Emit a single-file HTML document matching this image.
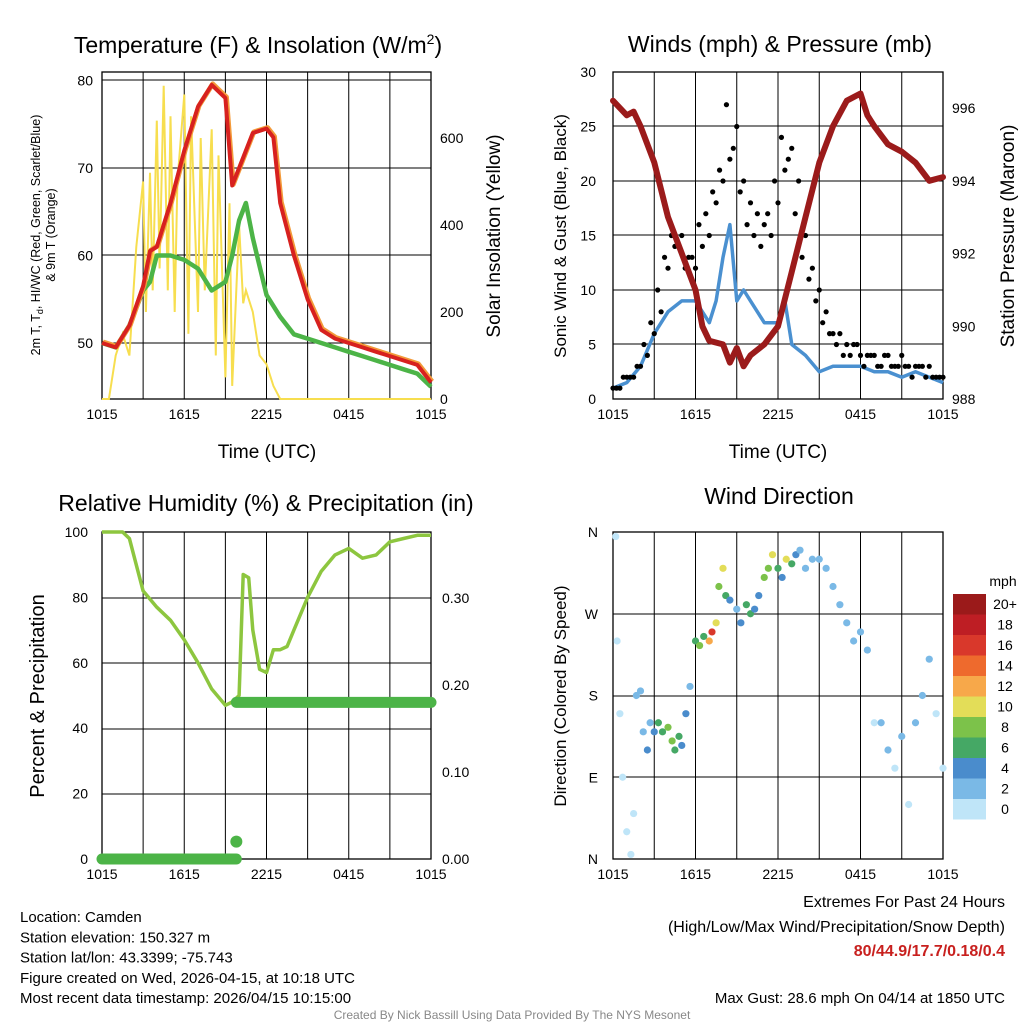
<!DOCTYPE html>
<html><head><meta charset="utf-8"><style>
html,body{margin:0;padding:0;background:#fff;}
svg{display:block;font-family:"Liberation Sans",sans-serif;}
</style></head><body>
<svg id="c" width="1024" height="1024" viewBox="0 0 1024 1024"></svg>
<script>
// ---------- DATA ----------
const tempTimes=[0,1,2,3,3.5,4,5,6,7,8,9,9.5,10,11,12,12.5,13,14,15,16,17,18,19,20,21,22,23,24];
const tempValues=[50,49.5,52,56.5,60.5,61,66,72,77,79.5,78,68,70,74,74.5,73.5,66,60,55,51.5,50.5,50,49.5,49,48.5,48,47.5,45.5];
const dewTimes=[0,1,2,3,3.5,4,5,6,7,8,9,9.5,10,10.5,11,12,13,14,15,16,17,18,19,20,21,22,23,24];
const dewValues=[50,49.5,52,56,57,60,60,59.5,58.5,56,57,60,64,66,62,55.5,53,51,50.5,50,49.5,49,48.5,48,47.5,47,46.5,45];
const solarTimes=[0,0.5,1,1.5,2,2.5,3,3.2,3.5,3.7,4,4.2,4.5,4.8,5,5.3,5.5,6,6.3,6.5,7,7.2,7.5,8,8.3,8.5,9,9.3,9.5,10,10.3,10.5,11,11.5,12,12.5,13,24];
const solarValues=[0,0,100,150,100,350,500,200,520,250,640,300,720,250,650,200,500,700,150,650,200,600,250,620,100,560,50,450,30,400,220,250,200,100,80,30,0,0];
const presTimes=[0,1,1.5,2,3,4,5,6,6.5,7,8,8.5,9,9.5,10,11,12,13,14,15,16,17,18,18.5,19,20,21,22,23,24];
const presValues=[996.2,995.8,995.9,995.5,994.5,993,992,991,990,989.6,989.5,989,989.4,988.9,989.2,989.5,990,991.5,993,994.5,995.5,996.2,996.4,995.8,995.5,995,994.8,994.5,994,994.1];
const windTimes=[0,1,2,3,4,5,6,7,7.5,8,8.5,9,9.5,10,11,12,12.5,13,14,15,16,17,18,19,20,21,22,23,24];
const windValues=[1,1.5,3,6,8,9,9,7,9,13,16,9,10,9,7,7,9,5,4,2.5,3,3,3,2.5,2.5,2,2.5,2,1.5];
const gustValuesA=[1,1,2,2,3,4,6,8,12,14,15,13,12,14,15,18,20,22,25,20,18,17,16,15,18,21,23,20,15,12,10,8,6,6,5,5,4,4,4,3,4,3,4,3,3,3,3,2,2];
const gustValuesB=[1,2,2,3,5,7,10,13,15,14,12,13,16,17,19,21,27,23,19,16,15,14,17,20,24,22,17,13,11,9,7,6,5,4,4,5,3,4,3,4,3,3,3,2,3,2,2,2];
const rhTimes=[0,1.5,2,3,4,5,6,7,8,9,9.5,10,10.3,10.7,11,11.5,12,12.5,13,13.5,14,15,16,17,18,19,20,21,22,23,24];
const rhValues=[100,100,98,82,77,73,67,60,52,47,48,50,87,86,70,58,57,64,64,65,70,80,88,93,95,92,93,97,98,99,99];
const precipTimes=[0,9.8,9.8,24];
const precipValues=[0,0,0.18,0.18];
const dirTimes=[0.2,0.3,0.5,0.7,1,1.3,1.5,1.7,2,2.2,2.5,2.7,3,3.3,3.6,4,4.3,4.5,4.8,5,5.3,5.6,6,6.3,6.6,7,7.2,7.5,7.7,8,8.2,8.5,9,9.3,9.7,10,10.3,10.6,11,11.3,11.6,12,12.3,12.6,13,13.3,13.6,14,14.5,15,15.5,16,16.5,17,17.5,18,18.5,19,19.5,20,20.5,21,21.5,22,22.5,23,23.5,24];
const dirValues=[355,240,160,90,30,5,50,180,185,140,120,150,140,150,140,145,130,120,135,125,160,190,240,235,245,240,250,260,300,320,290,285,275,260,280,270,275,290,310,320,335,320,310,330,325,335,340,320,330,330,320,300,280,260,240,250,230,150,150,120,100,135,60,150,180,220,160,100];
const dirSpeeds=[1,1,1,1,0,1,1,2,2,3,4,3,5,6,7,8,8,7,6,5,4,3,6,8,7,12,16,10,8,10,6,5,3,4,7,6,4,5,8,9,11,6,5,10,7,4,2,3,2,2,2,2,2,2,2,2,2,1,2,2,1,3,1,2,2,2,1,1];
const xTickLabels=["1015","1615","2215","0415","1015"];
const speedLabels=["20+","18","16","14","12","10","8","6","4","2","0"];
const speedColors=["#9b1a1a","#be1e24","#d9382b","#ee6a2d","#f7a84a","#e3dd58","#7cc24a","#45a865","#4a8ccc","#7ab9e6","#bfe5f8"];

// ---------- HELPERS ----------
const svg=document.getElementById('c');
const NS='http://www.w3.org/2000/svg';
function mk(tag,a,parent){const e=document.createElementNS(NS,tag);for(const k in a)e.setAttribute(k,a[k]);(parent||svg).appendChild(e);return e;}
function txt(s,x,y,size,anchor,rot,extra){const e=mk('text',Object.assign({x:x,y:y,'font-size':size,'text-anchor':anchor||'middle',fill:'#000'},extra||{}));if(rot)e.setAttribute('transform','rotate('+rot+' '+x+' '+y+')');e.textContent=s;return e;}
function scale(d0,d1,r0,r1){return v=>r0+(v-d0)/(d1-d0)*(r1-r0);}
function pathOf(xs,ys,fx,fy){return xs.map((t,i)=>(i?'L':'M')+fx(t).toFixed(1)+' '+fy(ys[i]).toFixed(1)).join(' ');}

function frame(x0,y0,x1,y1,name,hLines,xTicks){
  const g=mk('g',{});
  
  
  for(let i=1;i<8;i++){const x=x0+(x1-x0)*i/8;const l=mk('line',{x1:x,x2:x,y1:y0,y2:y1,stroke:'#000','stroke-width':1},g);}
  hLines.forEach(y=>{const l=mk('line',{x1:x0,x2:x1,y1:y,y2:y,stroke:'#000','stroke-width':1},g);});
  const r=mk('rect',{x:x0,y:y0,width:x1-x0,height:y1-y0,fill:'none',stroke:'#000','stroke-width':1.3},g);
  
  
  xTickLabels.forEach((s,i)=>{const x=x0+(x1-x0)*i/4;const t=txt(s,x,y1+20,14);});
  return g;
}
function yTicks(vals,fy,x,anchor,fmt,name){vals.forEach(v=>{const t=txt(fmt(v),x,fy(v)+5,14,anchor);});}

// ---------- PANEL 1 ----------
{
const X0=102,X1=431,Y0=72,Y1=399;
const fx=scale(0,24,X0,X1), fy=scale(50,70,343,168), fs=scale(0,600,399,138);
frame(X0,Y0,X1,Y1,'temperature-plot',[80,168,255,343,Y0]);
const sol=mk('path',{d:pathOf(solarTimes,solarValues,fx,fs),fill:'none',stroke:'#f7de4f','stroke-width':2});


const dw=mk('path',{d:pathOf(dewTimes,dewValues,fx,fy),fill:'none',stroke:'#4cb447','stroke-width':4.5,'stroke-linejoin':'round'});


const or=mk('path',{d:pathOf(tempTimes,tempValues,fx,fy),fill:'none',stroke:'#f39a3a','stroke-width':5,'stroke-linejoin':'round',transform:'translate(1,-1)'});


const tl=mk('path',{d:pathOf(tempTimes,tempValues,fx,fy),fill:'none',stroke:'#d7211f','stroke-width':4,'stroke-linejoin':'round'});


yTicks([50,60,70,80],fy,93,'end',v=>v,'temp-tick-label');
yTicks([0,200,400,600],fs,440,'start',v=>v,'solar-tick-label');
const ti=txt('Temperature (F) & Insolation (W/m',258,53,23);
const tsp=mk('tspan',{'font-size':14,dy:-9},ti);tsp.textContent='2';const tsp2=mk('tspan',{dy:9},ti);tsp2.textContent=')';
const xl=txt('Time (UTC)',267,458,19);
const yl1=txt('2m T, T',40,235,12.5,'middle',-90);
const sub=mk('tspan',{'font-size':9,dy:3},yl1);sub.textContent='d';const rest=mk('tspan',{dy:-3},yl1);rest.textContent=', HI/WC (Red, Green, Scarlet/Blue)';
const yl2=txt('& 9m T (Orange)',55,235,12.5,'middle',-90);
const yr=txt('Solar Insolation (Yellow)',500,236,19,'middle',-90);
}

// ---------- PANEL 2 ----------
{
const X0=613,X1=943,Y0=72,Y1=399;
const fx=scale(0,24,X0,X1), fy=scale(0,30,399,72), fp=scale(988,996,399,108);
frame(X0,Y0,X1,Y1,'winds-plot',[126,181,235,290,344]);
const wl=mk('path',{d:pathOf(windTimes,windValues,fx,fy),fill:'none',stroke:'#4a90d0','stroke-width':3.5,'stroke-linejoin':'round'});


gustValuesA.forEach((v,i)=>{const c=mk('circle',{cx:fx(i*0.5),cy:fy(v),r:2.6,fill:'#000'});});
gustValuesB.forEach((v,i)=>{const c=mk('circle',{cx:fx(i*0.5+0.25),cy:fy(v),r:2.6,fill:'#000'});});
const pl=mk('path',{d:pathOf(presTimes,presValues,fx,fp),fill:'none',stroke:'#9b1b1b','stroke-width':6,'stroke-linejoin':'round','stroke-linecap':'round'});


yTicks([0,5,10,15,20,25,30],fy,596,'end',v=>v,'wind-tick-label');
yTicks([988,990,992,994,996],fp,952,'start',v=>v,'pressure-tick-label');
const ti=txt('Winds (mph) & Pressure (mb)',780,52,23);
const xl=txt('Time (UTC)',778,458,19);
const yl=txt('Sonic Wind & Gust (Blue, Black)',566,236,17,'middle',-90);
const yr=txt('Station Pressure (Maroon)',1014,236,19,'middle',-90);
}

// ---------- PANEL 3 ----------
{
const X0=102,X1=431,Y0=532,Y1=859;
const fx=scale(0,24,X0,X1), fy=scale(0,100,859,532), fp=scale(0,0.3,859,598);
frame(X0,Y0,X1,Y1,'humidity-plot',[598,663,729,794]);
const rl=mk('path',{d:pathOf(rhTimes,rhValues,fx,fy),fill:'none',stroke:'#8dc63f','stroke-width':3.5,'stroke-linejoin':'round'});


const p1=mk('path',{d:pathOf(precipTimes.slice(0,2),precipValues.slice(0,2),fx,fp),fill:'none',stroke:'#4cb447','stroke-width':11,'stroke-linecap':'round'});


const p2=mk('path',{d:pathOf(precipTimes.slice(2),precipValues.slice(2),fx,fp),fill:'none',stroke:'#4cb447','stroke-width':11,'stroke-linecap':'round'});


const dot=mk('circle',{cx:fx(9.8),cy:fp(0.02),r:6,fill:'#4cb447'});


yTicks([0,20,40,60,80,100],fy,88,'end',v=>v,'rh-tick-label');
yTicks([0,0.1,0.2,0.3],fp,442,'start',v=>v.toFixed(2),'precip-tick-label');
const ti=txt('Relative Humidity (%) & Precipitation (in)',266,511,23);
const yl=txt('Percent & Precipitation',44,696,20,'middle',-90);
}

// ---------- PANEL 4 ----------
{
const X0=613,X1=943,Y0=532,Y1=859;
const fx=scale(0,24,X0,X1), fy=scale(0,360,859,532);
frame(X0,Y0,X1,Y1,'wind-direction-plot',[614,696,777]);
dirValues.forEach((d,i)=>{const bin=Math.min(10,Math.floor(dirSpeeds[i]/2));const c=mk('circle',{cx:fx(dirTimes[i]),cy:fy(d),r:3.6,fill:speedColors[10-bin]});});
['N','E','S','W','N'].forEach((s,i)=>{const t=txt(s,598,fy(i*90)+5,14,'end');});
const ti=txt('Wind Direction',779,504,23);
const yl=txt('Direction (Colored By Speed)',566,696,17,'middle',-90);
const cb=mk('g',{});


speedColors.forEach((c,i)=>{const r=mk('rect',{x:953,y:594+i*20.5,width:33,height:20.5,fill:c},cb);
const t=txt(speedLabels[i],1005,609+i*20.5,14,'middle');});
const mu=txt('mph',1003,586,14);
}

// ---------- FOOTER ----------
['Location: Camden','Station elevation: 150.327 m','Station lat/lon: 43.3399; -75.743','Figure created on Wed, 2026-04-15, at 10:18 UTC','Most recent data timestamp: 2026/04/15 10:15:00'].forEach((s,i)=>{const t=txt(s,20,922+i*20.3,15,'start');});
const e1=txt('Extremes For Past 24 Hours',1005,907,16,'end');
const e2=txt('(High/Low/Max Wind/Precipitation/Snow Depth)',1005,932,16,'end');
const e3=txt('80/44.9/17.7/0.18/0.4',1005,956,16,'end',0,{fill:'#c8201e','font-weight':'bold'});
const e4=txt('Max Gust: 28.6 mph On 04/14 at 1850 UTC',1005,1003,15,'end');
const cr=txt('Created By Nick Bassill Using Data Provided By The NYS Mesonet',512,1019,12,'middle',0,{fill:'#888'});
</script>
</body></html>
